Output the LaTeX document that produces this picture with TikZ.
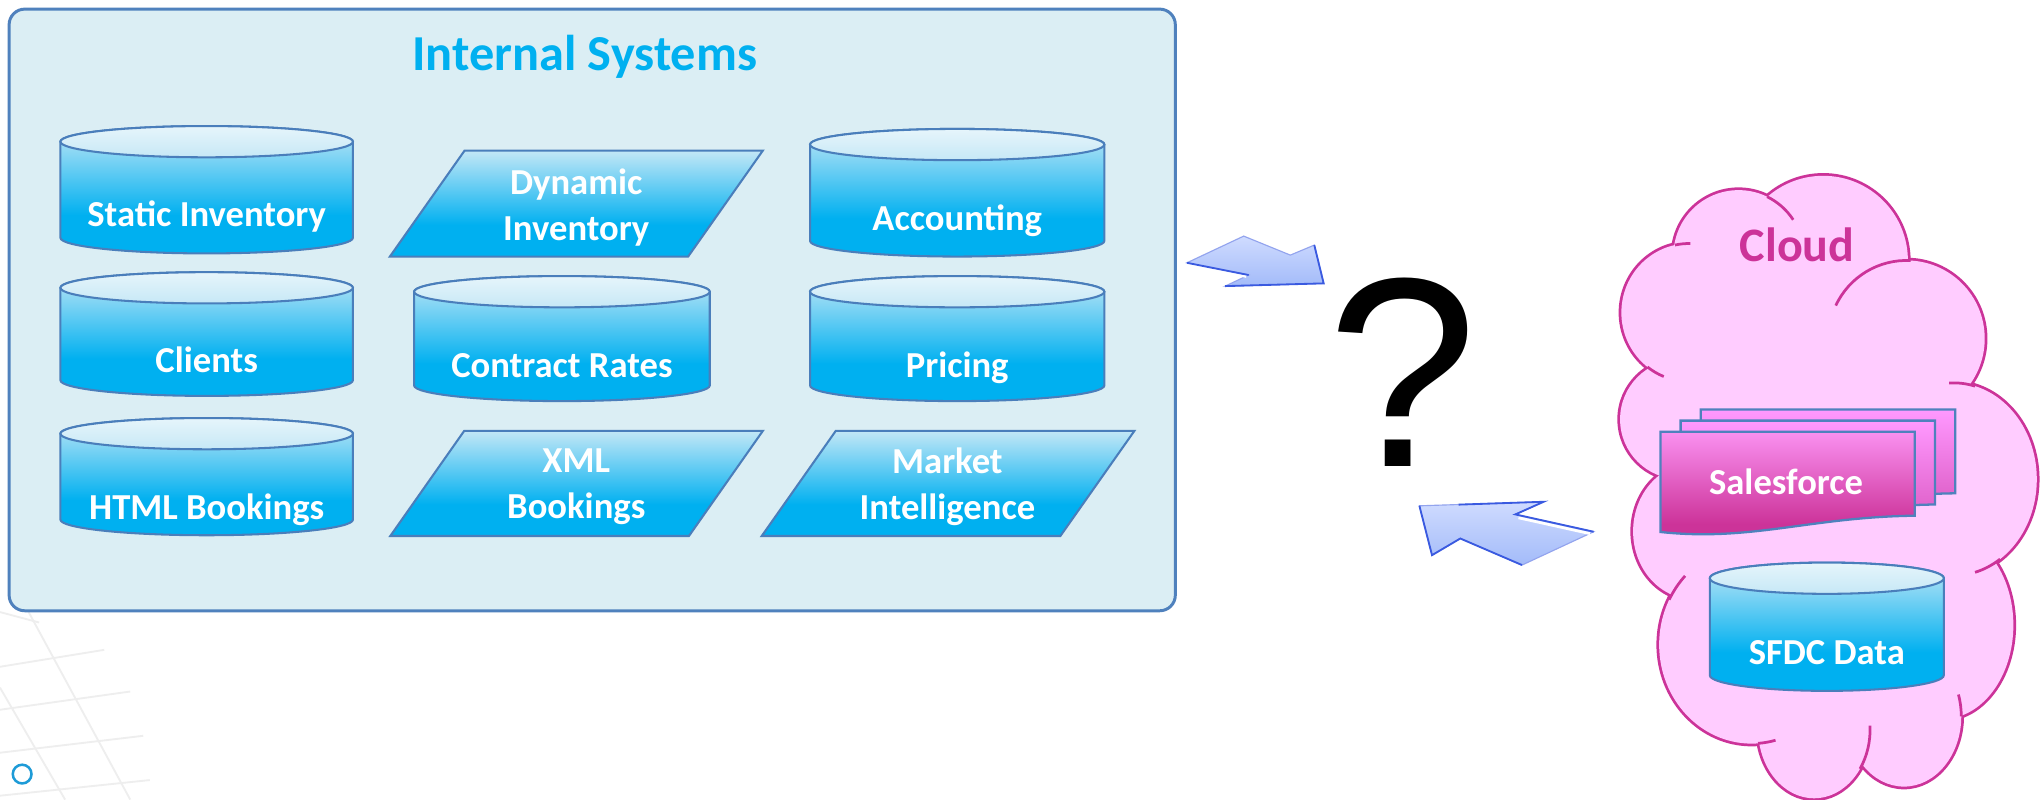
\documentclass[tikz,border=0pt]{standalone}
\usepackage{fontspec}
\setmainfont{Carlito}
\newfontfamily\qfont{Liberation Sans}
\definecolor{boxfill}{HTML}{DBEEF4}
\definecolor{boxline}{HTML}{4F81BD}
\definecolor{titlecol}{HTML}{00B0F0}
\definecolor{cyD}{HTML}{00B0F0}
\definecolor{cyL}{HTML}{C3E7F6}
\definecolor{capT}{HTML}{E6F5FB}
\definecolor{capB}{HTML}{C6E8F6}
\definecolor{cylline}{HTML}{4A7EBB}
\definecolor{cloudfill}{HTML}{FFCCFF}
\definecolor{cloudline}{HTML}{CC3399}
\definecolor{mD}{HTML}{CC3399}
\definecolor{mL}{HTML}{FA90F0}
\definecolor{mLL}{HTML}{FF99FF}
\definecolor{mB}{HTML}{D855BE}
\definecolor{arrL}{HTML}{CFDBFF}
\definecolor{arrD}{HTML}{A3BBF9}
\definecolor{arrE}{HTML}{3A5AE0}
\definecolor{ringcol}{HTML}{1E9BD7}
\definecolor{gridcol}{HTML}{EEEEEE}
\pgfdeclareverticalshading{cylbody}{100bp}{color(0bp)=(cyD); color(25bp)=(cyD); color(40bp)=(cyD); color(75bp)=(cyL); color(100bp)=(cyL)}
\pgfdeclareverticalshading{docfront}{100bp}{color(0bp)=(mD); color(25bp)=(mD); color(33bp)=(mD); color(75bp)=(mL); color(100bp)=(mL)}
\pgfdeclareverticalshading{docback}{100bp}{color(0bp)=(mB); color(25bp)=(mB); color(75bp)=(mLL); color(100bp)=(mLL)}
\tikzset{
  lbl/.style={text=white, font=\bfseries\fontsize{16}{20.2}\selectfont, align=center, inner sep=0pt},
  cylbox/.style={draw=cylline, line width=0.9pt},
  cloudedge/.style={draw=cloudline, line width=1.2pt},
}
% cylinder: name, cx, top, bottom, half width, text baseline, text
\newcommand\dbcyl[7]{%
  \path[shade, shading=cylbody, cylbox]
    (#2-#5,#3+12) -- (#2-#5,#4-12)
    arc[start angle=180, end angle=0, x radius=#5, y radius=12]
    -- (#2+#5,#3+12)
    arc[start angle=0, end angle=-180, x radius=#5, y radius=12] -- cycle;
  \path[top color=capT, bottom color=capB, cylbox] (#2,#3+12) ellipse[x radius=#5, y radius=12];
  \node[lbl, anchor=base] (#1) at (#2,#6) {#7};
}
% slanted box: name, x1, x2, top, bottom, skew, cx, cy, text
\newcommand\slantbox[9]{%
  \path[shade, shading=cylbody, cylbox] (#2,#4) -- (#3,#4) -- (#3-#6,#5) -- (#2-#6,#5) -- cycle;
  \node[lbl] (#1) at (#7,#8) {#9};
}
% document page: dx, dy, shading
\newcommand\sfdoc[3]{%
  \path[shade, shading=#3, draw=boxline, line width=1pt]
    (1275+#1,331.6+#2) -- (1470.3+#1,331.6+#2) -- (1470.3+#1,396+#2)
    .. controls (1390+#1,397+#2) and (1345+#1,416+#2) .. (1275+#1,408.5+#2) -- cycle;
}
\begin{document}
\begin{tikzpicture}[x=0.02cm, y=-0.02cm]
\useasboundingbox (0,0) rectangle (1568,614);
\fill[white] (0,0) rectangle (1568,614);
% faint background grid
\begin{scope}[draw=gridcol, line width=0.8pt]
  \draw (0,512) -- (80,499);
  \draw (0,545) -- (100,531);
  \draw (0,578) -- (110,565);
  \draw (0,611) -- (115,599);
  \draw (0,470) -- (30,478);
  \draw (22,470) -- (100,614);
  \draw (0,528) -- (50,614);
\end{scope}
\draw[ringcol, line width=1.1pt] (17,594.4) circle[radius=7.2];
% Internal systems container
\draw[draw=boxline, fill=boxfill, line width=1.3pt, rounded corners=0.24cm] (7,7) rectangle (902.5,469);
\node[font=\bfseries\fontsize{22}{26}\selectfont, text=titlecol, anchor=base, inner sep=0pt] (title) at (449,54) {Internal Systems};
% column 1
\dbcyl{static}{158.7}{96.8}{194.6}{112.3}{174}{Static Inventory}
\dbcyl{clients}{158.7}{209}{304}{112.3}{286}{Clients}
\dbcyl{html}{158.7}{321}{411}{112.3}{399}{HTML Bookings}
% column 2
\slantbox{dynamic}{356.7}{585.7}{115.7}{197}{57.3}{442.5}{159.5}{Dynamic\\Inventory}
\dbcyl{contract}{431.5}{212}{308}{113.5}{290}{Contract Rates}
\slantbox{xml}{356.5}{585.8}{330.8}{411.6}{56.8}{442.5}{373.7}{XML\\Bookings}
% column 3
\dbcyl{accounting}{735}{99}{197}{113}{177}{Accounting}
\dbcyl{pricing}{735}{212}{308}{113}{290}{Pricing}
\slantbox{market}{641.8}{871.1}{330.8}{411.6}{56.9}{727.5}{373.7}{Market\\Intelligence}
% arrows
\path[top color=arrL, bottom color=arrD, draw=arrE!55, line width=0.5pt]
  (911.4,201.8) -- (955,181.3) -- (990.8,195.9) -- (1009.2,188.2) -- (1016.4,217.6) -- (940.8,219.7) -- (958.8,211.2) -- cycle;
\draw[white, line width=1.2pt] (915,203.8) -- (957,212.3);
\draw[arrE, line width=0.8pt] (911.4,201.8) -- (958.8,211.2);
\draw[arrE, line width=0.8pt] (940.8,219.7) -- (1016.4,217.6) -- (1009.2,188.2);
\path[top color=arrL, bottom color=arrD, draw=arrE!55, line width=0.5pt]
  (1089.9,388.4) -- (1185.3,385.3) -- (1163.6,395) -- (1223.7,408.3) -- (1168.7,433.9) -- (1121.3,413.5) -- (1099.6,426.3) -- cycle;
\draw[white, line width=1.2pt] (1166,397.6) -- (1221,409.8);
\draw[arrE, line width=0.8pt] (1120,387.5) -- (1185.3,385.3) -- (1163.6,395) -- (1223.7,408.3);
\draw[arrE, line width=0.8pt] (1168.7,433.9) -- (1121.3,413.5) -- (1099.6,426.3) -- (1089.9,388.4);
% question mark
\node[font=\qfont\fontsize{118}{120}\selectfont, anchor=base, inner sep=0pt] (qm) at (1077,358) {?};
% cloud
\foreach \cx/\cy/\rx/\ry in {1400/200/65/65, 1335/196/50/50, 1297/240/52/53, 1290/322/46/46, 1300/408/46/52, 1345/495/71/76, 1393/560/43/53, 1462/550/44/54, 1492/480/54/72, 1500/368/64/74, 1464/260/60/60}
  \draw[cloudline, line width=2.4pt] (\cx,\cy) ellipse[x radius=\rx, y radius=\ry];
\foreach \cx/\cy/\rx/\ry in {1400/200/65/65, 1335/196/50/50, 1297/240/52/53, 1290/322/46/46, 1300/408/46/52, 1345/495/71/76, 1393/560/43/53, 1462/550/44/54, 1492/480/54/72, 1500/368/64/74, 1464/260/60/60}
  \fill[cloudfill] (\cx,\cy) ellipse[x radius=\rx, y radius=\ry];
\fill[cloudfill] (1400,200) -- (1335,196) -- (1297,240) -- (1290,322) -- (1300,408) -- (1345,495) -- (1393,560) -- (1462,550) -- (1492,480) -- (1500,368) -- (1464,260) -- cycle;
\foreach \cx/\cy/\rx/\ry/\ta/\tb in {1335/196/50/50/-64/-33, 1297/240/52/53/-102/-89, 1464/260/60/60/-155/-87, 1297/240/52/53/112/128, 1500/368/64/74/-93/-75, 1500/368/64/74/56/75, 1462/550/44/54/-18/0, 1393/560/43/53/-3/35, 1345/495/71/76/75/86, 1345/495/71/76/207/224}
  \draw[cloudedge] ({\cx+\rx*cos(\ta)},{\cy+\ry*sin(\ta)}) arc[start angle=\ta, end angle=\tb, x radius=\rx, y radius=\ry];
\node[font=\bfseries\fontsize{21}{25}\selectfont, text=cloudline, anchor=base, inner sep=0pt] (cloud) at (1380,201) {Cloud};
% Salesforce stack
\sfdoc{31}{-17.2}{docback}
\sfdoc{15.5}{-8.6}{docback}
\sfdoc{0}{0}{docfront}
\node[lbl, anchor=base] (salesforce) at (1371.5,379.5) {Salesforce};
% SFDC data
\dbcyl{sfdc}{1402.75}{432}{530.5}{89.85}{510}{SFDC Data}
\end{tikzpicture}
\end{document}
